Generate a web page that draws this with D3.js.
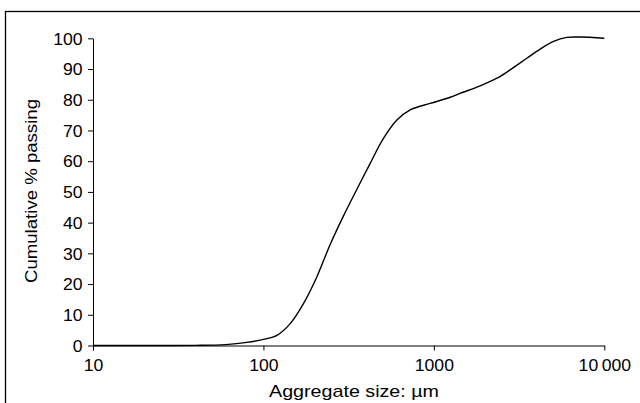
<!DOCTYPE html>
<html>
<head>
<meta charset="utf-8">
<script src="https://cdn.jsdelivr.net/npm/d3@7"></script>
<style>
  body { margin: 0; background: #fff; }
  text { font-family: Arial, "Liberation Sans", sans-serif; fill: #000; }
</style>
</head>
<body>
<svg id="chart" width="640" height="403"></svg>
<script>
// grading curve (size in µm, cumulative % passing)
const sizes = [10, 20, 40, 60, 80, 100, 120, 144, 172, 206, 246, 295, 353, 423, 506, 607, 726, 951,
               1247, 1426, 1870, 2343, 2800, 3508, 4204, 5035, 6030, 7216, 10000];
const passing = [0, 0, 0.05, 0.3, 1.0, 2.0, 3.3, 7.2, 13.7, 22.4, 32.8, 42.2, 50.8, 59.3, 67.4, 73.4, 76.7, 78.8,
                 80.8, 82.1, 84.5, 87.0, 89.7, 93.5, 96.5, 99.0, 100.3, 100.4, 100];
const xTicks = [10, 100, 1000, 10000];
const xTickLabels = ["10", "100", "1000", "10\u2009000"];
const yTicks = [0, 10, 20, 30, 40, 50, 60, 70, 80, 90, 100];

const svg = d3.select("#chart");

// outer frame (cropped on right and bottom)
svg.append("rect")
  .attr("x", 5.5).attr("y", 11.5)
  .attr("width", 700).attr("height", 500)
  .attr("fill", "none").attr("stroke", "#000").attr("stroke-width", 1.3);

const margin = { left: 93, top: 38.3, right: 604.3, bottom: 345.5 };

const x = d3.scaleLog().domain([10, 10000]).range([margin.left, margin.right]);
const y = d3.scaleLinear().domain([0, 100]).range([margin.bottom, margin.top]);

const sx = 1.1; // slight horizontal stretch seen in the tick labels

// x axis
const gx = svg.append("g")
  .attr("transform", `translate(0,${margin.bottom})`)
  .call(d3.axisBottom(x).tickValues(xTicks).tickFormat((d, i) => xTickLabels[i]).tickSize(5).tickSizeOuter(0));
gx.selectAll(".tick text")
  .attr("font-size", 16).attr("dy", null).attr("y", 26)
  .attr("transform", `scale(${sx},1)`);

// y axis
const gy = svg.append("g")
  .attr("transform", `translate(${margin.left},0)`)
  .call(d3.axisLeft(y).tickValues(yTicks).tickSize(5).tickSizeOuter(0));
gy.selectAll(".tick text")
  .attr("font-size", 16).attr("x", -10.5 / sx).attr("dy", "0.36em")
  .attr("transform", `scale(${sx},1)`);

svg.selectAll(".domain, .tick line").attr("stroke", "#000").attr("stroke-width", 1);

// axis titles
svg.append("text")
  .attr("x", 354).attr("y", 397)
  .attr("text-anchor", "middle")
  .attr("font-size", 17)
  .attr("textLength", 170).attr("lengthAdjust", "spacingAndGlyphs")
  .text("Aggregate size: \u00b5m");

svg.append("text")
  .attr("transform", "translate(37,191) rotate(-90)")
  .attr("text-anchor", "middle")
  .attr("font-size", 17)
  .attr("textLength", 184).attr("lengthAdjust", "spacingAndGlyphs")
  .text("Cumulative % passing");

// curve
const pts = sizes.map((s, i) => [x(s), y(passing[i])]);
svg.append("path")
  .attr("d", d3.line().curve(d3.curveCatmullRom.alpha(0.5))(pts))
  .attr("fill", "none")
  .attr("stroke", "#000")
  .attr("stroke-width", 1.4);
</script>
</body>
</html>
